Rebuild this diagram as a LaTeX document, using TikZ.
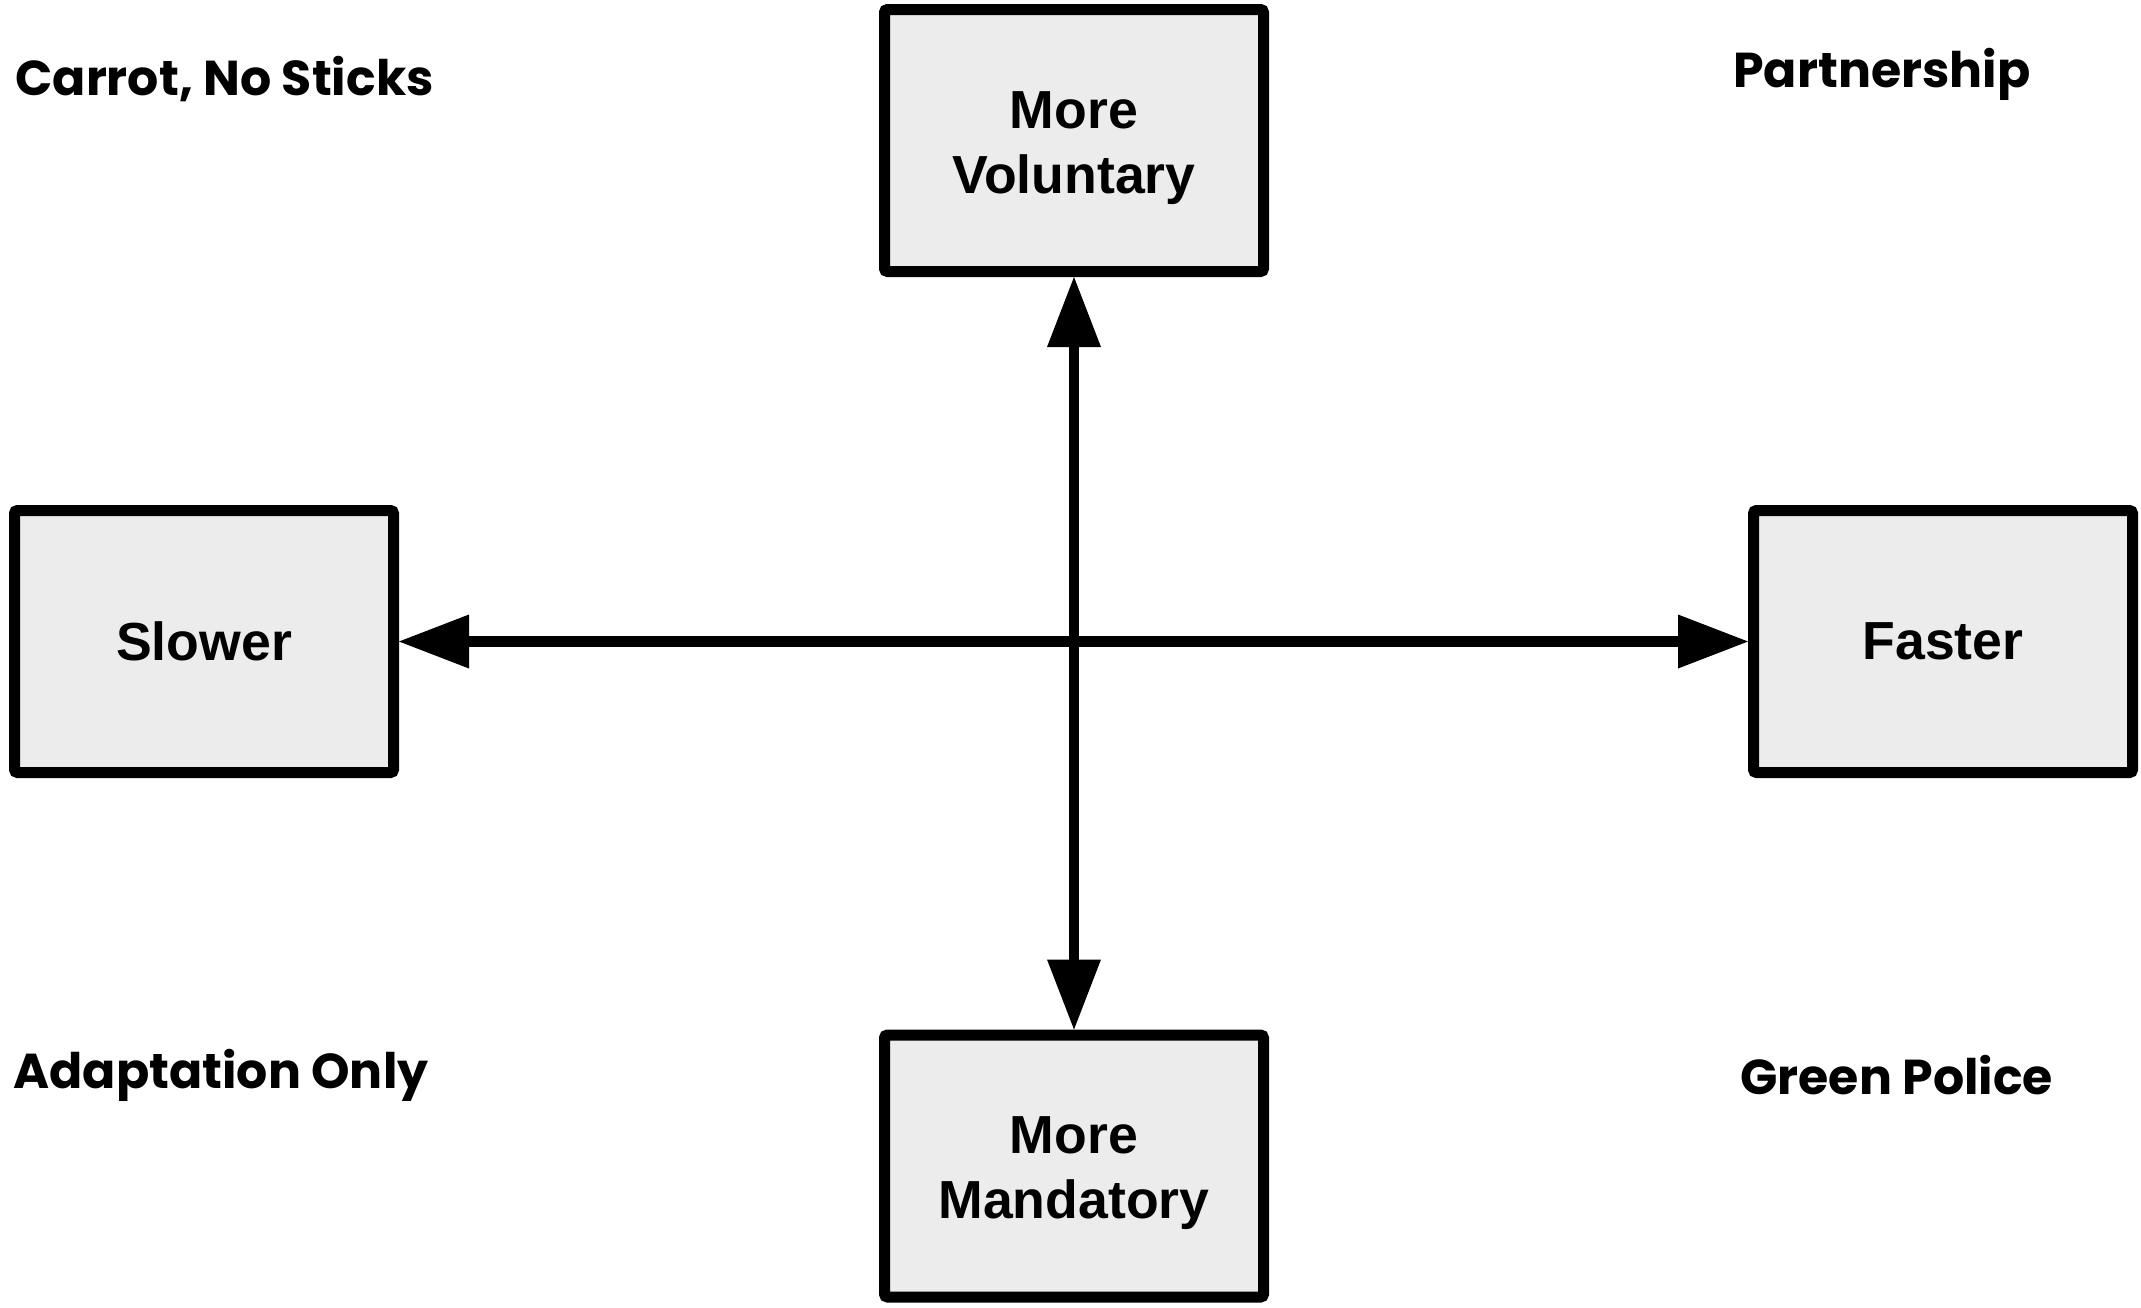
\documentclass[tikz,border=0pt]{standalone}
\usepackage{fontspec}
\setmainfont{Liberation Sans}
\newfontfamily\labfont{Poppins}
\usetikzlibrary{arrows.meta}
\definecolor{boxgray}{HTML}{ECECEC}
\begin{document}
\begin{tikzpicture}[x=0.5pt,y=-0.5pt,
  box/.style={draw=black, line width=5.5pt, fill=boxgray, rounded corners=1.5pt,
    minimum width=189.5pt, minimum height=131pt, inner sep=0pt, align=center,
    font=\fontsize{26.8pt}{32.5pt}\selectfont\bfseries},
  twoline/.style={text height=58.5pt},
  lab/.style={anchor=base west, inner sep=0pt, font=\labfont\fontsize{24.5pt}{28pt}\selectfont\bfseries},
  axis/.style={line width=5.25pt,
    {Triangle[length=35pt,width=27pt,line width=0pt]}-{Triangle[length=35pt,width=27pt,line width=0pt]}}]
\useasboundingbox (0,0) rectangle (2141,1307);
\fill[white] (0,0) rectangle (2141,1307);
\node[box,twoline] (vol) at (1074,140.5) {More\\Voluntary};
\node[box,twoline] (man) at (1074,1166) {More\\Mandatory};
\node[box] (slow) at (204,641.5) {Slower};
\node[box] (fast) at (1943,641.5) {Faster};
\draw[axis] (vol) -- (man);
\draw[axis] (slow) -- (fast);
\node[lab] (cns) at (15,95) {Carrot, No Sticks};
\node[lab] (par) at (1733,87) {Partnership};
\node[lab] (ado) at (13,1088) {Adaptation Only};
\node[lab] (grp) at (1740,1094) {Green Police};
\end{tikzpicture}
\end{document}
